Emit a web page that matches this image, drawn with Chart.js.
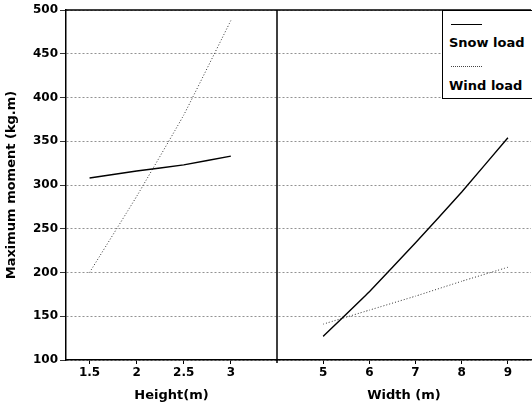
<!DOCTYPE html>
<html>
<head>
<meta charset="utf-8">
<script src="https://cdn.jsdelivr.net/npm/chart.js@4/dist/chart.umd.min.js"></script>
<style>
  body { margin: 0; background: #fff; }
  #wrap { position: relative; width: 532px; height: 405px; }
  #legend {
    position: absolute; left: 442px; top: 10px; width: 95px; height: 89px;
    border: 1px solid #000; background: #fff; box-sizing: border-box;
    font: bold 13px "DejaVu Sans", sans-serif; color: #000;
  }
  #legend .ln { position: absolute; left: 8px; width: 31px; height: 0; }
  #legend .txt { position: absolute; left: 6px; }
</style>
</head>
<body>
<div id="wrap">
  <canvas id="chart" width="532" height="405"></canvas>
  <div id="legend"></div>
</div>
<script>
// tick labels for each panel
const heightTicks = [1.5, 2, 2.5, 3];
const widthTicks = [5, 6, 7, 8, 9];
const momentTicks = [100, 150, 200, 250, 300, 350, 400, 450, 500];

// left panel: moment vs height
const heights = [1.5, 2, 2.5, 3];
const snowByHeight = [308, 316, 323, 333];
const windByHeight = [200, 287, 380, 488];

// right panel: moment vs width
const widths = [5, 6, 7, 8, 9];
const snowByWidth = [127, 178, 234, 292, 354];
const windByWidth = [141, 157, 173, 190, 206];

const FONT = '"DejaVu Sans", sans-serif';

function toPoints(xs, ys) {
    return xs.map((x, i) => ({ x: x, y: ys[i] }));
}

const solid = { borderColor: '#000', borderWidth: 1.4, pointRadius: 0, tension: 0.1 };
const dotted = { borderColor: '#333', borderWidth: 1, borderDash: [1, 2], pointRadius: 0, tension: 0.1 };

// top border + divider between the two panels
const framePlugin = {
    id: 'frame',
    afterDraw(chart) {
        const ctx = chart.ctx;
        const area = chart.chartArea;
        const x2 = chart.scales.x2;
        ctx.save();
        ctx.strokeStyle = '#000';
        ctx.lineWidth = 1.5;
        ctx.beginPath();
        ctx.moveTo(area.left, area.top);
        ctx.lineTo(area.right, area.top);
        ctx.moveTo(x2.left, area.top);
        ctx.lineTo(x2.left, area.bottom + 3);
        ctx.stroke();
        ctx.restore();
    }
};

const tickFont = { family: FONT, size: 12, weight: 'bold' };
const titleFont = { family: FONT, size: 13, weight: 'bold' };

function xAxis(min, max, ticks, weight, title) {
    return {
        type: 'linear',
        position: 'bottom',
        stack: 'panels',
        stackWeight: weight,
        min: min,
        max: max,
        afterBuildTicks: s => { s.ticks = ticks.map(v => ({ value: v })); },
        afterFit: s => { s.height = 45; },
        grid: { drawOnChartArea: false, tickLength: 4, tickColor: '#000' },
        border: { color: '#000', width: 1.5 },
        ticks: { color: '#000', font: tickFont, padding: 2, maxRotation: 0, callback: v => String(v) },
        title: { display: true, text: title, color: '#000', font: titleFont, padding: { top: 0, bottom: 2 } }
    };
}

new Chart(document.getElementById('chart'), {
    type: 'line',
    data: {
        datasets: [
            Object.assign({ label: 'Snow load', xAxisID: 'x1', data: toPoints(heights, snowByHeight) }, solid),
            Object.assign({ label: 'Wind load', xAxisID: 'x1', data: toPoints(heights, windByHeight) }, dotted),
            Object.assign({ label: 'Snow load', xAxisID: 'x2', data: toPoints(widths, snowByWidth) }, solid),
            Object.assign({ label: 'Wind load', xAxisID: 'x2', data: toPoints(widths, windByWidth) }, dotted)
        ]
    },
    options: {
        responsive: false,
        animation: false,
        layout: { padding: { top: 10, right: 1, left: 0, bottom: 0 } },
        plugins: { legend: { display: false }, tooltip: { enabled: false } },
        scales: {
            x1: xAxis(1.25, 3.49, heightTicks, 211, 'Height(m)'),
            x2: xAxis(4, 9.5, widthTicks, 254, 'Width (m)'),
            y: {
                min: 100,
                max: 500,
                afterBuildTicks: s => { s.ticks = momentTicks.map(v => ({ value: v })); },
                afterFit: s => { s.width = 66; },
                grid: { color: '#777', lineWidth: 0.8, tickLength: 6, tickColor: '#000' },
                border: { color: '#000', width: 1.5, dash: [2, 2] },
                ticks: { color: '#000', font: tickFont, padding: 2 },
                title: { display: true, text: 'Maximum moment (kg.m)', color: '#000', font: titleFont, padding: { top: 4, bottom: 0 } }
            }
        }
    },
    plugins: [framePlugin]
});

// legend: line sample above each label
const legendItems = [
    { text: 'Snow load', style: '1.5px solid #000' },
    { text: 'Wind load', style: '1px dotted #444' }
];
const legend = document.getElementById('legend');
legendItems.forEach((item, i) => {
    const ln = document.createElement('div');
    ln.className = 'ln';
    ln.style.top = (13 + i * 42) + 'px';
    ln.style.borderTop = item.style;
    const txt = document.createElement('div');
    txt.className = 'txt';
    txt.style.top = (24 + i * 43) + 'px';
    txt.textContent = item.text;
    legend.appendChild(ln);
    legend.appendChild(txt);
});
</script>
</body>
</html>
